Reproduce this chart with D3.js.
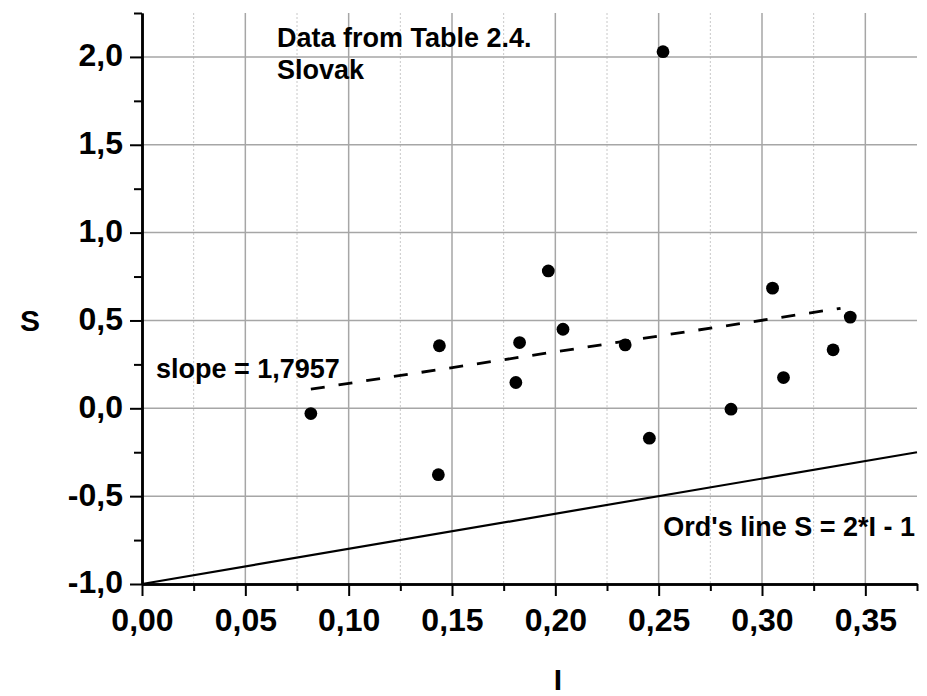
<!DOCTYPE html>
<html>
<head>
<meta charset="utf-8">
<script src="https://d3js.org/d3.v7.min.js"></script>
<style>
  body { margin: 0; background: #fff; }
  svg text { font-family: "Liberation Sans", Arial, sans-serif; font-weight: bold; fill: #000; }
</style>
</head>
<body>
<div id="chart"></div>
<script>
'use strict';

// data (Table 2.4, Slovak)
var iValues = [0.0817, 0.1439, 0.1434, 0.1827, 0.1809, 0.1966, 0.2037, 0.2338,
               0.2455, 0.2521, 0.2850, 0.3051, 0.3104, 0.3344, 0.3427];
var sValues = [-0.03, 0.356, -0.378, 0.374, 0.147, 0.782, 0.450, 0.361,
               -0.170, 2.030, -0.005, 0.684, 0.175, 0.333, 0.519];

var fitSlope = 1.7957;
var fitIntercept = -0.0377;
var fitRange = [0.0817, 0.338];

var ordSlope = 2;
var ordIntercept = -1;

var xTicks = [0, 0.05, 0.10, 0.15, 0.20, 0.25, 0.30, 0.35];
var yTicks = [-1.0, -0.5, 0.0, 0.5, 1.0, 1.5, 2.0];
var xMinor = [0.025, 0.075, 0.125, 0.175, 0.225, 0.275, 0.325, 0.375];
var yMinor = [-0.75, -0.25, 0.25, 0.75, 1.25, 1.75, 2.25];

var width = 927;
var height = 696;
var margin = {top: 13, right: 10, bottom: 112, left: 142};
var plotW = width - margin.left - margin.right;
var plotH = height - margin.top - margin.bottom;

// decimal comma, plain hyphen for minus
var comma = function(digits) {
    var f = d3.format('.' + digits + 'f');
    return function(d) { return f(d).replace('.', ',').replace('\u2212', '-'); };
};

var x = d3.scaleLinear().domain([0, 0.375]).range([0, plotW]);
var y = d3.scaleLinear().domain([-1, 2.25]).range([plotH, 0]);

var svg = d3.select('#chart')
    .append('svg')
    .attr('width', width)
    .attr('height', height);

var g = svg.append('g')
    .attr('transform', 'translate(' + margin.left + ',' + margin.top + ')');

// minor vertical grid (dotted)
g.selectAll('.minor-grid')
    .data(xMinor.filter(function(d) { return d < 0.375; }))
    .enter()
    .append('line')
    .attr('x1', function(d) { return x(d); })
    .attr('x2', function(d) { return x(d); })
    .attr('y1', 0)
    .attr('y2', plotH)
    .attr('stroke', '#c8c8c8')
    .attr('stroke-width', 1)
    .attr('stroke-dasharray', '2,2');

// major grid
g.selectAll('.vgrid')
    .data(xTicks.filter(function(d) { return d > 0; }))
    .enter()
    .append('line')
    .attr('x1', function(d) { return x(d); })
    .attr('x2', function(d) { return x(d); })
    .attr('y1', 0)
    .attr('y2', plotH)
    .attr('stroke', '#a6a6a6')
    .attr('stroke-width', 1.5);

g.selectAll('.hgrid')
    .data(yTicks.filter(function(d) { return d > -1; }))
    .enter()
    .append('line')
    .attr('x1', 0)
    .attr('x2', plotW)
    .attr('y1', function(d) { return y(d); })
    .attr('y2', function(d) { return y(d); })
    .attr('stroke', '#a6a6a6')
    .attr('stroke-width', 1.5);

// Ord's line S = 2*I - 1
var line = d3.line()
    .x(function(d) { return x(d[0]); })
    .y(function(d) { return y(d[1]); });

var ordPts = x.domain().map(function(v) { return [v, ordSlope * v + ordIntercept]; });
g.append('path')
    .attr('d', line(ordPts))
    .attr('fill', 'none')
    .attr('stroke', '#000')
    .attr('stroke-width', 2.2);

// regression line
var fitPts = fitRange.map(function(v) { return [v, fitSlope * v + fitIntercept]; });
g.append('path')
    .attr('d', line(fitPts))
    .attr('fill', 'none')
    .attr('stroke', '#000')
    .attr('stroke-width', 2.8)
    .attr('stroke-dasharray', '14,14');

// points
g.selectAll('.dot')
    .data(iValues)
    .enter()
    .append('circle')
    .attr('cx', function(d) { return x(d); })
    .attr('cy', function(d, i) { return y(sValues[i]); })
    .attr('r', 6.4)
    .attr('fill', '#000');

// axes
var xAxis = g.append('g')
    .attr('transform', 'translate(0,' + plotH + ')')
    .call(d3.axisBottom(x).tickValues(xTicks).tickFormat(comma(2)).tickSizeInner(12).tickSizeOuter(0).tickPadding(12));
xAxis.append('g')
    .call(d3.axisBottom(x).tickValues(xMinor).tickFormat('').tickSizeInner(7).tickSizeOuter(0));

var yAxis = g.append('g')
    .call(d3.axisLeft(y).tickValues(yTicks).tickFormat(comma(1)).tickSizeInner(12).tickSizeOuter(0).tickPadding(7));
yAxis.append('g')
    .call(d3.axisLeft(y).tickValues(yMinor).tickFormat('').tickSizeInner(8).tickSizeOuter(0));

svg.selectAll('.domain').attr('stroke', '#000').attr('stroke-width', 2.5);
svg.selectAll('.tick line').attr('stroke', '#000').attr('stroke-width', 2);
svg.selectAll('.tick text').style('font-size', '32px').attr('fill', '#000');
yAxis.selectAll('.tick text').attr('dy', '0.28em');

// axis titles
svg.append('text')
    .attr('x', 558)
    .attr('y', 690)
    .attr('text-anchor', 'middle')
    .style('font-size', '30px')
    .text('I');

svg.append('text')
    .attr('x', 30)
    .attr('y', 331)
    .attr('text-anchor', 'middle')
    .style('font-size', '30px')
    .text('S');

// annotations
svg.append('text').attr('x', 277).attr('y', 47).style('font-size', '27px').text('Data from Table 2.4.');
svg.append('text').attr('x', 277).attr('y', 79).style('font-size', '27px').text('Slovak');
svg.append('text').attr('x', 156).attr('y', 378).style('font-size', '27px').text('slope = 1,7957');
svg.append('text').attr('x', 915).attr('y', 536).attr('text-anchor', 'end').style('font-size', '27px').text("Ord's line S = 2*I - 1");
</script>
</body>
</html>
